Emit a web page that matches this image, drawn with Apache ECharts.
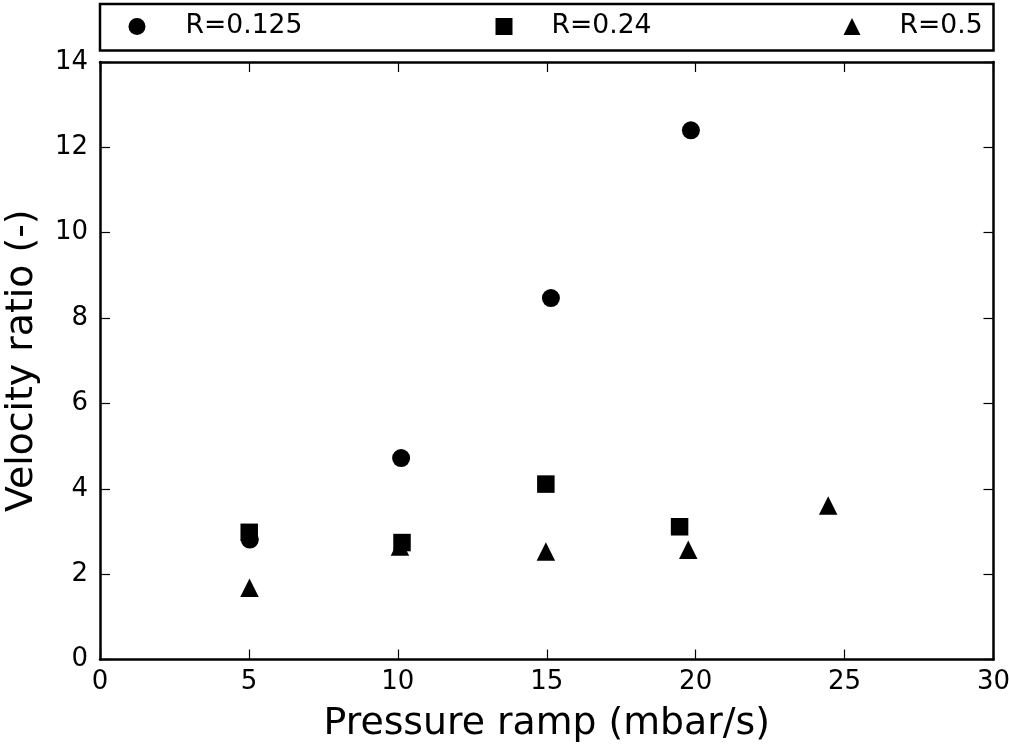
<!DOCTYPE html>
<html>
<head>
<meta charset="utf-8">
<script src="https://cdn.jsdelivr.net/npm/echarts@6/dist/echarts.min.js"></script>
<style>
html,body{margin:0;padding:0;background:#fff;}
#chart{width:1009px;height:745px;}
</style>
</head>
<body>
<div id="chart"></div>
<script>
// ---- data ----
const seriesNames = ['R=0.125', 'R=0.24', 'R=0.5'];
const r0125X = [5.03, 10.11, 15.14, 19.84];
const r0125Y = [2.81, 4.72, 8.47, 12.40];
const r024X = [5.01, 10.14, 14.97, 19.46];
const r024Y = [2.98, 2.74, 4.11, 3.11];
const r05X = [5.02, 10.07, 14.97, 19.75, 24.45];
const r05Y = [1.68, 2.65, 2.53, 2.57, 3.61];
const xTitle = 'Pressure ramp (mbar/s)';
const yTitle = 'Velocity ratio (-)';

function pairs(xs, ys) { return xs.map((x, i) => [x, ys[i]]); }

const FONT = 'DejaVu Sans';
const LINE_W = 2.5;

const chart = echarts.init(document.getElementById('chart'), null, {renderer: 'canvas'});

function tickStyle() { return {show: true, inside: true, length: 10, lineStyle: {color: '#000', width: 1.2}}; }
function lineStyle() { return {show: true, onZero: false, lineStyle: {color: '#000', width: LINE_W}}; }
function labelStyle(margin) { return {color: '#000', fontSize: 26, fontFamily: FONT, lineHeight: 26, margin: margin}; }

function legendAt(name, left, symbolIcon, textPad) {
  return {
    data: [{name: name, icon: symbolIcon}],
    left: left, top: 13, padding: 0,
    itemWidth: 17, itemHeight: 17,
    selectedMode: false,
    textStyle: {color: '#000', fontSize: 26.6, fontFamily: FONT, lineHeight: 26, padding: [0, 0, 0, textPad]}
  };
}

const option = {
  backgroundColor: '#fff',
  animation: false,
  grid: {left: 100, right: 15.5, top: 62, bottom: 85.5, containLabel: false, outerBoundsMode: 'none'},
  legend: [
    legendAt(seriesNames[0], 128.5, 'circle', 35),
    legendAt(seriesNames[1], 495.5, 'rect', 34),
    legendAt(seriesNames[2], 843.5, 'triangle', 34)
  ],
  graphic: [{
    type: 'rect',
    shape: {x: 100, y: 4, width: 893.5, height: 46.5},
    style: {fill: 'none', stroke: '#000', lineWidth: LINE_W},
    silent: true
  }],
  xAxis: [{
    type: 'value', position: 'bottom', min: 0, max: 30, interval: 5,
    name: xTitle, nameLocation: 'middle', nameGap: 46,
    nameTextStyle: {color: '#000', fontSize: 37.8, fontFamily: FONT, lineHeight: 38},
    axisLine: lineStyle(), axisTick: tickStyle(),
    axisLabel: labelStyle(10),
    splitLine: {show: false}
  }, {
    type: 'value', position: 'top', min: 0, max: 30, interval: 5,
    axisLine: lineStyle(), axisTick: tickStyle(),
    axisLabel: {show: false}, splitLine: {show: false}
  }],
  yAxis: [{
    type: 'value', position: 'left', min: 0, max: 14, interval: 2,
    name: yTitle, nameLocation: 'middle', nameGap: 59, nameRotate: 90,
    nameTextStyle: {color: '#000', fontSize: 37.8, fontFamily: FONT, lineHeight: 38},
    axisLine: lineStyle(), axisTick: tickStyle(),
    axisLabel: labelStyle(12),
    splitLine: {show: false}
  }, {
    type: 'value', position: 'right', min: 0, max: 14, interval: 2,
    axisLine: lineStyle(), axisTick: tickStyle(),
    axisLabel: {show: false}, splitLine: {show: false}
  }],
  series: [{
    name: seriesNames[0], type: 'scatter', symbol: 'circle', symbolSize: 18,
    itemStyle: {color: '#000', opacity: 1}, data: pairs(r0125X, r0125Y), z: 2
  }, {
    name: seriesNames[1], type: 'scatter', symbol: 'rect', symbolSize: 17.5,
    itemStyle: {color: '#000', opacity: 1}, data: pairs(r024X, r024Y), z: 3
  }, {
    name: seriesNames[2], type: 'scatter', symbol: 'triangle', symbolSize: 18.5,
    itemStyle: {color: '#000', opacity: 1}, data: pairs(r05X, r05Y), z: 2
  }]
};
chart.setOption(option);
</script>
</body>
</html>
